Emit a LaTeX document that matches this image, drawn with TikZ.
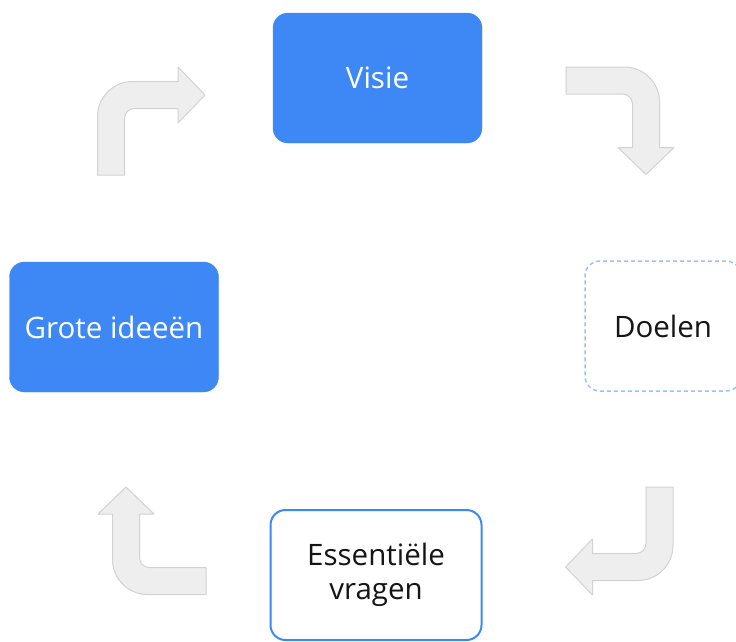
\documentclass[tikz,border=0pt]{standalone}
\usepackage{fontspec}
\setmainfont{Open Sans}
\definecolor{boxblue}{HTML}{3E88F5}
\definecolor{dashblue}{HTML}{9CC0F8}
\definecolor{arrfill}{HTML}{EEEEEE}
\definecolor{arrline}{HTML}{D2D2D2}
\definecolor{txtdark}{HTML}{151515}
\tikzset{
  box/.style={rounded corners=15pt, minimum width=209pt, minimum height=130pt,
    inner sep=0pt, align=center, font=\fontsize{29.5}{34}\selectfont},
  bluebox/.style={box, fill=boxblue, draw=boxblue, text=white},
  outlinebox/.style={box, fill=white, draw=boxblue, line width=2pt, text=txtdark},
  dashbox/.style={box, fill=white, draw=dashblue, line width=1.5pt,
    dash pattern=on 4pt off 3pt, text=txtdark},
  blockarrow/.style={fill=arrfill, draw=arrline, line width=1pt, line join=round},
  pics/bentarr/.style={code={
    \path[blockarrow] (0,-13.5) -- (58.5,-13.5)
      .. controls (77.8,-13.5) and (93.5,2.2) .. (93.5,21.5)
      -- (93.5,67) -- (108,67) -- (80,94) -- (52,67) -- (66.5,67) -- (66.5,23.5)
      .. controls (66.5,18) and (62,13.5) .. (56.5,13.5)
      -- (0,13.5) -- cycle;
  }}
}
\begin{document}
\begin{tikzpicture}[x=1pt,y=-1pt]
\useasboundingbox (0,0) rectangle (736,641);
% boxes
\node[bluebox] (visie) at (377.5,78) {Visie};
\node[dashbox, minimum width=156pt] (doelen) at (663,326) {Doelen};
\node[outlinebox, minimum width=211pt] (vragen) at (376,575) {Essentiële\\vragen};
\node[bluebox] (ideeen) at (114,327) {Grote ideeën};
% bent block arrows
\pic at (566,80.5) {bentarr};
\pic[rotate=-90] at (659.5,487) {bentarr};
\pic[rotate=180] at (206,581) {bentarr};
\pic[rotate=90] at (111,175) {bentarr};
\end{tikzpicture}
\end{document}
